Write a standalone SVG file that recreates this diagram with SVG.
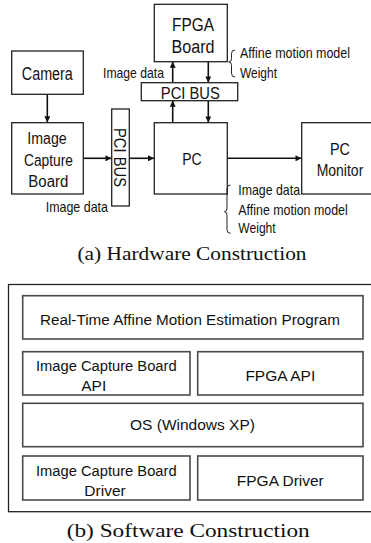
<svg xmlns="http://www.w3.org/2000/svg" width="371" height="543" viewBox="0 0 371 543">
  <style>
    .box { fill: #fff; stroke: #222; stroke-width: 1.3; }
    .sbox { fill: #fff; stroke: #4a4a4a; stroke-width: 1.6; }
    .frame { fill: none; stroke: #222; stroke-width: 1.3; }
    .link { fill: none; stroke: #111; stroke-width: 1.6; }
    .brace { fill: none; stroke: #222; stroke-width: 1; }
    .t { font-family: "Liberation Sans", Arial, sans-serif; fill: #111; }
    .lbl { font-family: "Liberation Sans", Arial, sans-serif; font-size: 14.5px; fill: #111; }
    .cap { font-family: "Liberation Serif", "Times New Roman", serif; font-size: 19px; fill: #111; }
    .sw { font-family: "Liberation Sans", Arial, sans-serif; font-size: 15.5px; fill: #111; text-anchor: middle; }
  </style>
  <defs>
    <marker id="arrow" viewBox="0 0 10 10" refX="10" refY="5" markerWidth="7" markerHeight="6" markerUnits="userSpaceOnUse" orient="auto">
      <path d="M0,0 L10,5 L0,10 z" fill="#111"/>
    </marker>
  </defs>

  <!-- (a) hardware construction -->
  <g id="connectors">
    <line class="link" x1="47.3" y1="94.3" x2="47.3" y2="122.3" marker-end="url(#arrow)"/>
    <line class="link" x1="83.3" y1="158.3" x2="111.5" y2="158.3" marker-end="url(#arrow)"/>
    <line class="link" x1="129.3" y1="158.3" x2="154" y2="158.3" marker-end="url(#arrow)"/>
    <line class="link" x1="227.3" y1="158.3" x2="301.5" y2="158.3" marker-end="url(#arrow)"/>
    <line class="link" x1="172.7" y1="122.7" x2="172.7" y2="100.8" marker-end="url(#arrow)"/>
    <line class="link" x1="208.3" y1="100.8" x2="208.3" y2="122.5" marker-end="url(#arrow)"/>
    <line class="link" x1="172.7" y1="82.7" x2="172.7" y2="61.8" marker-end="url(#arrow)"/>
    <line class="link" x1="208.3" y1="61.7" x2="208.3" y2="82.5" marker-end="url(#arrow)"/>
  </g>

  <g id="fpga-board">
    <rect class="box" x="154.3" y="4.3" width="73" height="57.4"/>
    <text class="t" x="193" y="31" font-size="18.5" text-anchor="middle" textLength="42" lengthAdjust="spacingAndGlyphs">FPGA</text>
    <text class="t" x="193" y="53.3" font-size="18.5" text-anchor="middle" textLength="43" lengthAdjust="spacingAndGlyphs">Board</text>
  </g>

  <g id="pci-bus-top">
    <rect class="box" x="141.3" y="82.7" width="96.4" height="18"/>
    <text class="t" x="190.3" y="99" font-size="16.5" text-anchor="middle" textLength="59" lengthAdjust="spacingAndGlyphs">PCI BUS</text>
  </g>

  <g id="camera">
    <rect class="box" x="11.7" y="51" width="71.6" height="43.3"/>
    <text class="t" x="47.3" y="80" font-size="17.5" text-anchor="middle" textLength="51" lengthAdjust="spacingAndGlyphs">Camera</text>
  </g>

  <g id="image-capture-board">
    <rect class="box" x="11.7" y="122.7" width="71.6" height="71.3"/>
    <text class="t" x="47" y="143.5" font-size="16" text-anchor="middle" textLength="39.4" lengthAdjust="spacingAndGlyphs">Image</text>
    <text class="t" x="48.5" y="165.5" font-size="16" text-anchor="middle" textLength="49" lengthAdjust="spacingAndGlyphs">Capture</text>
    <text class="t" x="48.3" y="186.5" font-size="16" text-anchor="middle" textLength="40" lengthAdjust="spacingAndGlyphs">Board</text>
  </g>

  <g id="pci-bus-side">
    <rect class="box" x="111.7" y="109" width="17.6" height="97"/>
    <text class="t" transform="translate(114,157.5) rotate(90)" x="0" y="0" font-size="16.5" text-anchor="middle" textLength="59" lengthAdjust="spacingAndGlyphs">PCI BUS</text>
  </g>

  <g id="pc">
    <rect class="box" x="154.3" y="122.7" width="73" height="71.3"/>
    <text class="t" x="192" y="165" font-size="16.5" text-anchor="middle" textLength="19.5" lengthAdjust="spacingAndGlyphs">PC</text>
  </g>

  <g id="pc-monitor">
    <rect class="box" x="301.7" y="122.7" width="72" height="71.3"/>
    <text class="t" x="340" y="155" font-size="16" text-anchor="middle" textLength="20" lengthAdjust="spacingAndGlyphs">PC</text>
    <text class="t" x="340" y="175.5" font-size="16" text-anchor="middle" textLength="46.6" lengthAdjust="spacingAndGlyphs">Monitor</text>
  </g>

  <g id="labels">
    <text class="lbl" x="103" y="77.5" textLength="61" lengthAdjust="spacingAndGlyphs">Image data</text>
    <path class="brace" d="M235,50 Q231.5,50 231.5,53.5 L231.5,58.5 Q231.5,62 228.8,62 Q231.5,62 231.5,65.5 L231.5,73.5 Q231.5,77 235,77"/>
    <text class="lbl" x="240" y="58" textLength="110" lengthAdjust="spacingAndGlyphs">Affine motion model</text>
    <text class="lbl" x="240" y="77.5" textLength="37" lengthAdjust="spacingAndGlyphs">Weight</text>

    <text class="lbl" x="45.7" y="212" textLength="62.3" lengthAdjust="spacingAndGlyphs">Image data</text>

    <path class="brace" d="M230.5,185 Q227,185 227,188.5 L227,208 Q227,211.7 224.5,211.7 Q227,211.7 227,215.2 L227,229.8 Q227,233.3 230.5,233.3"/>
    <text class="lbl" x="238.3" y="195" textLength="61.7" lengthAdjust="spacingAndGlyphs">Image data</text>
    <text class="lbl" x="238.3" y="215" textLength="109.4" lengthAdjust="spacingAndGlyphs">Affine motion model</text>
    <text class="lbl" x="238.3" y="232.5" textLength="37.4" lengthAdjust="spacingAndGlyphs">Weight</text>
  </g>

  <text class="cap" x="77.5" y="259.5" textLength="229" lengthAdjust="spacingAndGlyphs">(a) Hardware Construction</text>

  <!-- (b) software construction -->
  <rect class="frame" x="8.5" y="284.5" width="370" height="227.2"/>

  <g id="app-program">
    <rect class="sbox" x="22.7" y="295.7" width="340.3" height="43.3"/>
    <text class="sw" x="190" y="325" textLength="300" lengthAdjust="spacingAndGlyphs">Real-Time Affine Motion Estimation Program</text>
  </g>

  <g id="capture-api">
    <rect class="sbox" x="22.7" y="351.7" width="167.3" height="43.3"/>
    <text class="sw" x="106.3" y="371" textLength="140.7" lengthAdjust="spacingAndGlyphs">Image Capture Board</text>
    <text class="sw" x="93.7" y="391">API</text>
  </g>

  <g id="fpga-api">
    <rect class="sbox" x="197.7" y="351.7" width="165.3" height="43.3"/>
    <text class="sw" x="280.3" y="381">FPGA API</text>
  </g>

  <g id="os">
    <rect class="sbox" x="22.7" y="403.3" width="340.3" height="43.4"/>
    <text class="sw" x="192.5" y="430">OS (Windows XP)</text>
  </g>

  <g id="capture-driver">
    <rect class="sbox" x="22.7" y="456" width="167.3" height="44"/>
    <text class="sw" x="106.3" y="476" textLength="140.7" lengthAdjust="spacingAndGlyphs">Image Capture Board</text>
    <text class="sw" x="105" y="496">Driver</text>
  </g>

  <g id="fpga-driver">
    <rect class="sbox" x="197.7" y="456" width="165.3" height="44"/>
    <text class="sw" x="280.3" y="486">FPGA Driver</text>
  </g>

  <text class="cap" x="66.7" y="537.3" textLength="243" lengthAdjust="spacingAndGlyphs">(b) Software Construction</text>
</svg>
